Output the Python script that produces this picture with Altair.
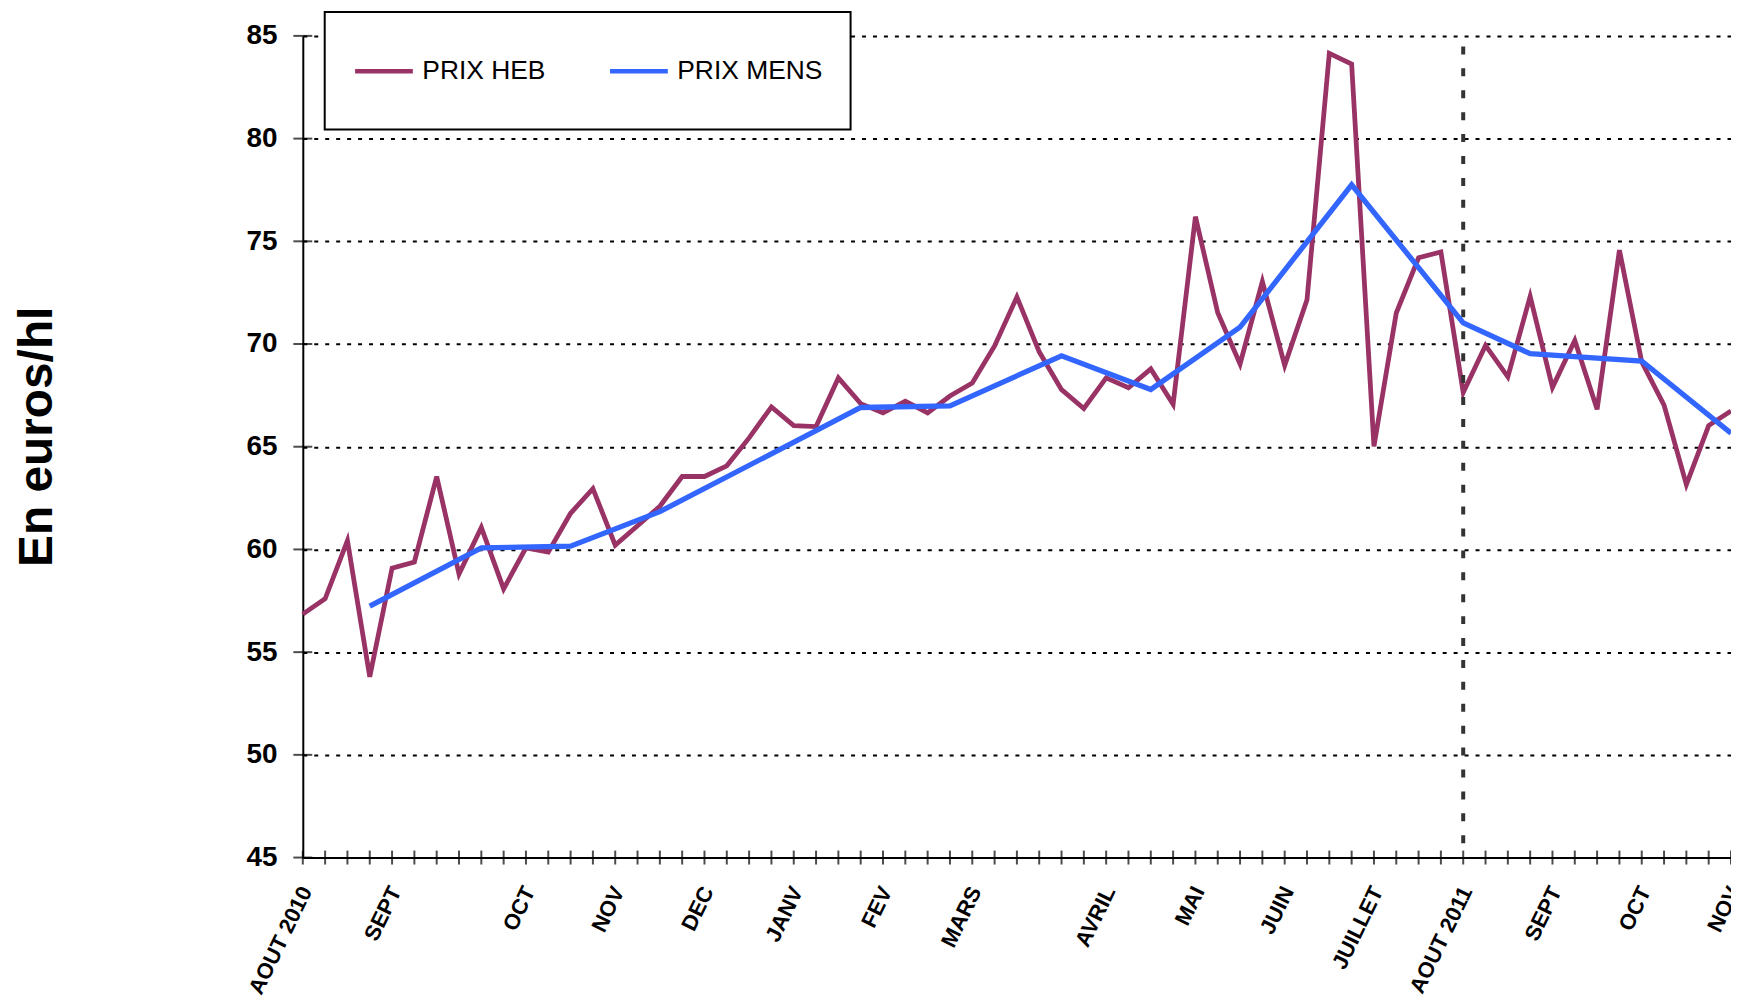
import altair as alt
import pandas as pd

# ---- data ----
heb_week = list(range(65))
heb_val = [56.85, 57.6, 60.43, 53.8, 59.09, 59.39, 63.55, 58.8, 61.07, 58.08,
           60.08, 59.87, 61.76, 62.96, 60.21, 61.15, 62.1, 63.55, 63.55, 64.07,
           65.43, 66.94, 66.03, 65.98, 68.35, 67.1, 66.65, 67.22, 66.65, 67.47,
           68.1, 69.91, 72.29, 69.62, 67.78, 66.86, 68.35, 67.87, 68.79, 67.07,
           76.2, 71.52, 69.03, 73.04, 68.96, 72.16, 84.15, 83.63, 65.02, 71.51,
           74.2, 74.48, 67.64, 69.93, 68.4, 72.32, 67.89, 70.17, 66.82, 74.57,
           69.13, 67.03, 63.16, 66.03, 66.74]
mens_week = [3, 8, 12, 16, 25, 29, 34, 38, 42, 47, 52, 55, 60, 64]
mens_val = [57.24, 60.08, 60.16, 61.84, 66.91, 66.99, 69.43, 67.79, 70.82,
            77.75, 71.03, 69.53, 69.17, 65.66]
month_pos = [0, 4, 10, 14, 18, 22, 26, 30, 36, 40, 44, 48, 52, 56, 60, 64]
month_lbl = ["AOUT 2010", "SEPT", "OCT", "NOV", "DEC", "JANV", "FEV", "MARS",
             "AVRIL", "MAI", "JUIN", "JUILLET", "AOUT 2011", "SEPT", "OCT", "NOV"]
y_ticks = [45, 50, 55, 60, 65, 70, 75, 80, 85]
series = ["PRIX HEB", "PRIX MENS"]
colors = ["#993366", "#3366FF"]
split_week = [52]
y_min, y_max = 45, 85

heb = pd.DataFrame({"semaine": heb_week, "prix": heb_val, "serie": series[0]})
mens = pd.DataFrame({"semaine": mens_week, "prix": mens_val, "serie": series[1]})
yt = pd.DataFrame({"prix": y_ticks})
split = pd.DataFrame({"semaine": split_week, "prix": [y_max], "prix2": [y_min]})

label_expr = " : ".join(
    f"datum.value == {p} ? '{l}'" for p, l in zip(month_pos, month_lbl)
) + " : ''"

FONT = "Liberation Sans"
W, H = 1434, 825

xscale = alt.Scale(domain=[0, 64], nice=False, zero=False)
yscale = alt.Scale(domain=[y_min, y_max], nice=False, zero=False)
cscale = alt.Scale(domain=series, range=colors)

x_axis = alt.Axis(
    values=month_pos, labelExpr=label_expr, ticks=False, tickSize=0, grid=False,
    domainColor="black", domainWidth=2, labelAngle=296, labelAlign="right",
    labelBaseline="middle", labelPadding=30, labelOffset=3, labelFontSize=22,
    labelFontWeight="bold", labelFont=FONT, labelColor="black",
    labelOverlap=False, labelFlush=False, title="",
)
y_axis = alt.Axis(
    values=y_ticks, ticks=False, tickSize=0, grid=True, gridColor="black",
    gridDash=[4, 7], gridWidth=2, gridOpacity=1, domainColor="black",
    domainWidth=2, labelPadding=26, labelFontSize=28, labelFontWeight="bold",
    labelFont=FONT, labelColor="black", labelBaseline="middle",
    labelOverlap=False, labelFlush=False,
    title="En euros/hl", titleFont=FONT, titleFontSize=48, titleFontWeight="bold",
    titleColor="black", titleAngle=270, titleX=-252, titleY=402,
    titleAlign="center", titleBaseline="alphabetic",
)

legend = alt.Legend(
    title=" ", titleOrient="bottom", titleFontSize=14, titlePadding=3,
    orient="none", legendX=22, legendY=-24, direction="horizontal",
    symbolType="stroke", symbolSize=3364, symbolStrokeWidth=4.5,
    labelFontSize=26.5, labelFont=FONT, labelColor="black", labelOffset=7,
    columnPadding=55, padding=28, fillColor="white", strokeColor="black",
)

heb_line = alt.Chart(heb).mark_line(strokeWidth=4.8).encode(
    x=alt.X("semaine:Q", scale=xscale, axis=x_axis),
    y=alt.Y("prix:Q", scale=yscale, axis=y_axis),
    color=alt.Color("serie:N", scale=cscale, legend=legend),
)
mens_line = alt.Chart(mens).mark_line(strokeWidth=5.3).encode(
    x=alt.X("semaine:Q", scale=xscale),
    y=alt.Y("prix:Q", scale=yscale),
    color=alt.Color("serie:N", scale=cscale, legend=legend),
)
split_rule = alt.Chart(split).mark_rule(
    color="#333333", strokeWidth=4, strokeDash=[8, 14], strokeDashOffset=11.4
).encode(
    x=alt.X("semaine:Q", scale=xscale),
    y=alt.Y("prix:Q", scale=yscale),
    y2="prix2:Q",
)
x_ticks = alt.Chart(heb).mark_tick(
    orient="vertical", size=14, thickness=2, color="black"
).encode(
    x=alt.X("semaine:Q", scale=xscale),
    y=alt.value(H),
)
y_tick_marks = alt.Chart(yt).mark_tick(
    orient="horizontal", size=19, thickness=2, color="black"
).encode(
    y=alt.Y("prix:Q", scale=yscale),
    x=alt.value(0),
)

chart = alt.layer(
    heb_line, split_rule, mens_line, x_ticks, y_tick_marks
).properties(
    width=W, height=H,
    autosize=alt.AutoSizeParams(type="none"),
    padding={"left": 296, "top": 26, "right": 0, "bottom": 139},
).configure(
    font=FONT
).configure_view(
    strokeWidth=0
).configure_legend(
    strokeWidth=2
)

chart.save("out.html", embed_options={"renderer": "svg", "actions": False})
